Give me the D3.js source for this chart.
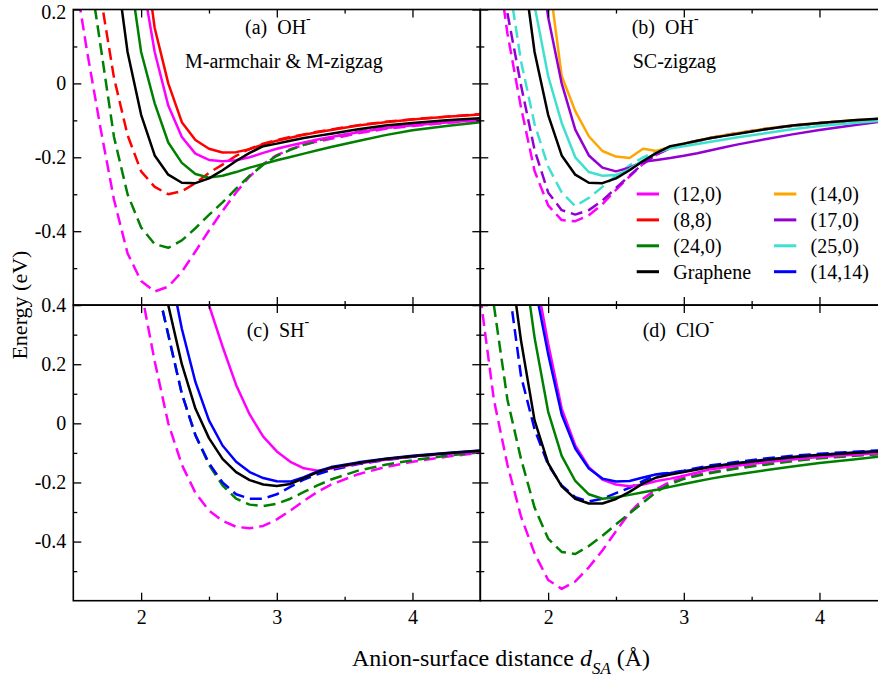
<!DOCTYPE html>
<html>
<head>
<meta charset="utf-8">
<script src="https://cdn.jsdelivr.net/npm/d3@7"></script>
<style>
  body { margin: 0; background: #fff; }
  svg text { font-family: 'Liberation Serif', Tinos, 'Times New Roman', Times, 'DejaVu Serif', serif; fill: #000; }
</style>
</head>
<body>
<svg id="chart" width="878" height="680"></svg>
<script>
// Anion–surface distance grid (Å)
const dist = [1.5,1.6,1.7,1.8,1.9,2.0,2.1,2.2,2.3,2.4,2.5,2.6,2.7,2.8,2.9,3.0,3.1,3.2,3.3,3.4,3.6,3.8,4.0,4.25,4.5];

// (a) OH-  metallic armchair / zigzag tubes (solid and dashed) and graphene
const a_12_0_dash = [0.32,0.09,-0.12,-0.315,-0.46,-0.535,-0.563,-0.55,-0.51,-0.455,-0.398,-0.345,-0.295,-0.252,-0.218,-0.194,-0.178,-0.166,-0.157,-0.15,-0.135,-0.123,-0.115,-0.107,-0.1];
const a_24_0_dash = [null,0.35,0.104,-0.145,-0.30,-0.39,-0.435,-0.445,-0.425,-0.392,-0.356,-0.322,-0.285,-0.25,-0.22,-0.196,-0.18,-0.166,-0.155,-0.146,-0.131,-0.12,-0.112,-0.104,-0.097];
const a_8_8_dash  = [null,null,0.24,0.015,-0.14,-0.238,-0.28,-0.30,-0.292,-0.27,-0.242,-0.22,-0.196,-0.177,-0.163,-0.153,-0.145,-0.138,-0.131,-0.125,-0.113,-0.104,-0.097,-0.09,-0.083];
const oh_graphene = [null,null,null,0.36,0.085,-0.085,-0.195,-0.247,-0.269,-0.27,-0.257,-0.235,-0.21,-0.188,-0.17,-0.163,-0.155,-0.148,-0.142,-0.136,-0.124,-0.114,-0.107,-0.1,-0.094];
const a_24_0 = [null,null,null,null,0.34,0.085,-0.054,-0.16,-0.215,-0.245,-0.255,-0.25,-0.24,-0.228,-0.218,-0.208,-0.199,-0.19,-0.181,-0.172,-0.156,-0.14,-0.127,-0.115,-0.105];
const a_12_0 = [null,null,null,null,null,0.30,0.085,-0.06,-0.145,-0.19,-0.207,-0.211,-0.208,-0.2,-0.188,-0.177,-0.168,-0.16,-0.152,-0.145,-0.132,-0.121,-0.113,-0.106,-0.099];
const a_8_8  = [null,null,null,null,null,0.42,0.15,0.0,-0.105,-0.153,-0.177,-0.187,-0.186,-0.178,-0.165,-0.155,-0.147,-0.139,-0.132,-0.126,-0.114,-0.105,-0.098,-0.09,-0.084];

// (b) OH-  semiconducting zigzag tubes
const b_12_0_dash = [null,0.4,0.135,-0.065,-0.237,-0.33,-0.37,-0.373,-0.357,-0.327,-0.288,-0.252,-0.218,-0.193,-0.175,-0.163,-0.155,-0.147,-0.14,-0.134,-0.123,-0.114,-0.107,-0.1,-0.095];
const b_17_0_dash = [null,0.48,0.19,-0.005,-0.18,-0.295,-0.343,-0.355,-0.343,-0.317,-0.283,-0.25,-0.217,-0.192,-0.175,-0.164,-0.156,-0.148,-0.141,-0.135,-0.124,-0.115,-0.108,-0.101,-0.096];
const b_25_0_dash = [null,null,0.3,0.06,-0.11,-0.225,-0.295,-0.332,-0.31,-0.28,-0.25,-0.222,-0.2,-0.183,-0.172,-0.163,-0.155,-0.148,-0.141,-0.135,-0.124,-0.115,-0.108,-0.101,-0.096];
const b_25_0 = [null,null,null,null,0.21,0.02,-0.107,-0.2,-0.24,-0.25,-0.248,-0.232,-0.208,-0.188,-0.176,-0.17,-0.164,-0.158,-0.152,-0.146,-0.135,-0.124,-0.115,-0.107,-0.1];
const b_17_0 = [null,null,null,null,0.45,0.18,0.0,-0.125,-0.195,-0.228,-0.238,-0.228,-0.212,-0.207,-0.202,-0.196,-0.189,-0.181,-0.173,-0.165,-0.151,-0.138,-0.126,-0.113,-0.101];
const b_14_0 = [null,null,null,null,null,0.3,0.02,-0.075,-0.143,-0.183,-0.198,-0.202,-0.177,-0.183,-0.172,-0.163,-0.155,-0.147,-0.14,-0.134,-0.123,-0.114,-0.107,-0.1,-0.095];

// (c) SH-
const c_12_0_dash  = [null,null,null,null,null,0.45,0.21,0.0,-0.14,-0.235,-0.295,-0.33,-0.35,-0.355,-0.347,-0.325,-0.295,-0.262,-0.232,-0.207,-0.172,-0.148,-0.13,-0.113,-0.099];
const c_24_0_dash  = [null,null,null,null,null,null,0.5,0.3,0.1,-0.04,-0.14,-0.21,-0.255,-0.275,-0.28,-0.272,-0.255,-0.232,-0.21,-0.19,-0.16,-0.14,-0.125,-0.11,-0.098];
const c_14_14_dash = [null,null,null,null,null,null,0.5,0.3,0.1,-0.04,-0.135,-0.2,-0.24,-0.255,-0.255,-0.24,-0.215,-0.19,-0.172,-0.158,-0.138,-0.124,-0.113,-0.103,-0.094];
const c_graphene   = [null,null,null,null,null,null,null,0.4,0.2,0.05,-0.05,-0.12,-0.165,-0.192,-0.207,-0.212,-0.205,-0.185,-0.165,-0.15,-0.134,-0.121,-0.111,-0.101,-0.093];
const c_14_14      = [null,null,null,null,null,null,null,0.55,0.32,0.14,0.01,-0.075,-0.13,-0.165,-0.185,-0.196,-0.197,-0.182,-0.163,-0.148,-0.132,-0.12,-0.11,-0.1,-0.092];
const c_12_0       = [null,null,null,null,null,null,null,null,null,0.55,0.4,0.26,0.13,0.03,-0.045,-0.095,-0.13,-0.152,-0.16,-0.153,-0.136,-0.123,-0.112,-0.102,-0.095];

// (d) ClO-
const d_12_0_dash  = [0.43,0.08,-0.14,-0.315,-0.44,-0.53,-0.56,-0.535,-0.487,-0.43,-0.365,-0.303,-0.255,-0.222,-0.198,-0.183,-0.174,-0.165,-0.157,-0.15,-0.137,-0.125,-0.117,-0.109,-0.102];
const d_24_0_dash  = [null,0.4,0.08,-0.12,-0.285,-0.39,-0.435,-0.442,-0.415,-0.38,-0.342,-0.305,-0.268,-0.231,-0.205,-0.188,-0.177,-0.168,-0.16,-0.152,-0.14,-0.128,-0.118,-0.11,-0.102];
const d_14_14_dash = [null,null,0.5,0.16,-0.02,-0.14,-0.21,-0.25,-0.264,-0.255,-0.236,-0.218,-0.195,-0.173,-0.167,-0.16,-0.151,-0.142,-0.136,-0.13,-0.119,-0.11,-0.103,-0.096,-0.09];
const d_graphene   = [null,null,0.62,0.28,0.01,-0.135,-0.213,-0.255,-0.271,-0.271,-0.256,-0.232,-0.203,-0.183,-0.173,-0.165,-0.156,-0.147,-0.141,-0.135,-0.124,-0.115,-0.107,-0.1,-0.093];
const d_24_0       = [null,null,null,0.62,0.29,0.04,-0.11,-0.195,-0.24,-0.255,-0.25,-0.242,-0.233,-0.225,-0.215,-0.205,-0.196,-0.187,-0.179,-0.172,-0.159,-0.146,-0.134,-0.122,-0.11];
const d_14_14      = [null,null,null,null,0.47,0.235,0.03,-0.085,-0.153,-0.187,-0.197,-0.195,-0.183,-0.172,-0.168,-0.162,-0.154,-0.146,-0.14,-0.134,-0.123,-0.114,-0.106,-0.099,-0.092];
const d_12_0       = [null,null,null,null,0.52,0.27,0.05,-0.075,-0.148,-0.19,-0.207,-0.213,-0.207,-0.195,-0.187,-0.177,-0.166,-0.155,-0.149,-0.143,-0.132,-0.122,-0.114,-0.106,-0.099];

// Legend
const legendLabels = ["(12,0)","(8,8)","(24,0)","Graphene","(14,0)","(17,0)","(25,0)","(14,14)"];
const legendColors = ["#ff00ff","#ff0000","#008000","#000000","#ffa500","#9400d3","#40e0d0","#0000ff"];

// Axis ticks
const xMajor = [2,3,4];
const xMinor = [2.5,3.5];
const yMajorTop = [-0.4,-0.2,0,0.2];
const yMinorTop = [-0.5,-0.3,-0.1,0.1];
const yMajorBot = [-0.4,-0.2,0,0.2,0.4];
const yMinorBot = [-0.5,-0.3,-0.1,0.1,0.3];

const C = {mag:"#ff00ff", red:"#ff0000", grn:"#008000", blk:"#000000",
           org:"#ffa500", pur:"#9400d3", cyn:"#40e0d0", blu:"#0000ff"};

const FONT = "'Liberation Serif', Tinos, 'Times New Roman', Times, 'DejaVu Serif', serif";

const svg = d3.select("#chart").attr("font-family", FONT);
const L = 73.3, T = 9.5, PW = 407, PH = 295.6;

const x = d3.scaleLinear().domain([1.5, 4.5]).range([0, PW]);
const yTop = d3.scaleLinear().domain([-0.6, 0.2]).range([PH, 0]);
const yBot = d3.scaleLinear().domain([-0.6, 0.4]).range([PH, 0]);

const panels = [
  {key:"a", col:0, row:0, y:yTop, yMaj:yMajorTop, yMin:yMinorTop, title:"(a)  OH", tx:171.7, ty:24.5,
   sub:"M-armchair & M-zigzag", sx:111.7, sy:58.5,
   series:[
     {v:a_12_0_dash, c:C.mag, dash:true}, {v:a_24_0_dash, c:C.grn, dash:true}, {v:a_8_8_dash, c:C.red, dash:true},
     {v:a_24_0, c:C.grn}, {v:a_12_0, c:C.mag}, {v:a_8_8, c:C.red}, {v:oh_graphene, c:C.blk}
   ]},
  {key:"b", col:1, row:0, y:yTop, yMaj:yMajorTop, yMin:yMinorTop, title:"(b)  OH", tx:151.4, ty:24.5,
   sub:"SC-zigzag", sx:152.4, sy:58.5,
   series:[
     {v:b_12_0_dash, c:C.mag, dash:true}, {v:b_17_0_dash, c:C.pur, dash:true}, {v:b_25_0_dash, c:C.cyn, dash:true},
     {v:b_14_0, c:C.org}, {v:b_17_0, c:C.pur}, {v:b_25_0, c:C.cyn}, {v:oh_graphene, c:C.blk}
   ]},
  {key:"c", col:0, row:1, y:yBot, yMaj:yMajorBot, yMin:yMinorBot, title:"(c)  SH", tx:173.4, ty:32,
   series:[
     {v:c_12_0_dash, c:C.mag, dash:true}, {v:c_24_0_dash, c:C.grn, dash:true}, {v:c_14_14_dash, c:C.blu, dash:true},
     {v:c_12_0, c:C.mag}, {v:c_14_14, c:C.blu}, {v:c_graphene, c:C.blk}
   ]},
  {key:"d", col:1, row:1, y:yBot, yMaj:yMajorBot, yMin:yMinorBot, title:"(d)  ClO", tx:162.4, ty:32,
   series:[
     {v:d_12_0_dash, c:C.mag, dash:true}, {v:d_24_0_dash, c:C.grn, dash:true}, {v:d_14_14_dash, c:C.blu, dash:true},
     {v:d_12_0, c:C.mag}, {v:d_24_0, c:C.grn}, {v:d_14_14, c:C.blu}, {v:d_graphene, c:C.blk}
   ]}
];

const fmtY = v => (Math.abs(v) < 1e-9 ? "0" : String(+v.toFixed(1)));
const blank = () => "";

function styleAxis(g) {
  g.select(".domain").remove();
  g.attr("font-size", 20).attr("font-family", FONT);
  g.selectAll(".tick line").attr("stroke", "#000").attr("stroke-width", 1.3);
  g.selectAll(".tick text").attr("fill", "#000");
}

panels.forEach(p => {
  const g = svg.append("g").attr("transform", `translate(${L + p.col * PW},${T + p.row * PH})`);
  const showX = p.row === 1, showY = p.col === 0;

  g.append("clipPath").attr("id", "clip-" + p.key)
    .append("rect").attr("width", PW).attr("height", PH);

  const line = d3.line()
    .defined(d => d[1] != null)
    .x(d => x(d[0]))
    .y(d => p.y(d[1]));

  const plot = g.append("g").attr("clip-path", `url(#clip-${p.key})`);
  p.series.forEach(s => {
    plot.append("path")
      .datum(dist.map((d, i) => [d, s.v[i]]))
      .attr("d", line)
      .attr("fill", "none")
      .attr("stroke", s.c)
      .attr("stroke-width", 2.5)
      .attr("stroke-linejoin", "round")
      .attr("stroke-dasharray", s.dash ? "12,6" : null);
  });

  // x ticks, bottom and top, pointing inward
  g.append("g").attr("transform", `translate(0,${PH})`)
    .call(d3.axisBottom(x).tickValues(xMajor).tickSize(-8).tickSizeOuter(0).tickPadding(9)
      .tickFormat(showX ? d3.format("d") : blank)).call(styleAxis);
  g.append("g").attr("transform", `translate(0,${PH})`)
    .call(d3.axisBottom(x).tickValues(xMinor).tickSize(-4).tickSizeOuter(0).tickFormat(blank)).call(styleAxis);
  g.append("g")
    .call(d3.axisTop(x).tickValues(xMajor).tickSize(-8).tickSizeOuter(0).tickFormat(blank)).call(styleAxis);
  g.append("g")
    .call(d3.axisTop(x).tickValues(xMinor).tickSize(-4).tickSizeOuter(0).tickFormat(blank)).call(styleAxis);

  // y ticks, left and right, pointing inward
  const yAx = g.append("g")
    .call(d3.axisLeft(p.y).tickValues(p.yMaj).tickSize(-8).tickSizeOuter(0).tickPadding(7)
      .tickFormat(showY ? fmtY : blank)).call(styleAxis);
  // keep the topmost label of the upper panel inside the page
  yAx.selectAll(".tick text").filter(v => p.row === 0 && v === 0.2).attr("dy", "0.45em");
  g.append("g")
    .call(d3.axisLeft(p.y).tickValues(p.yMin).tickSize(-4).tickSizeOuter(0).tickFormat(blank)).call(styleAxis);
  g.append("g").attr("transform", `translate(${PW},0)`)
    .call(d3.axisRight(p.y).tickValues(p.yMaj).tickSize(-8).tickSizeOuter(0).tickFormat(blank)).call(styleAxis);
  g.append("g").attr("transform", `translate(${PW},0)`)
    .call(d3.axisRight(p.y).tickValues(p.yMin).tickSize(-4).tickSizeOuter(0).tickFormat(blank)).call(styleAxis);

  g.append("rect").attr("width", PW).attr("height", PH)
    .attr("fill", "none").attr("stroke", "#000").attr("stroke-width", 1.6);

  // panel label with superscript minus
  const t = g.append("text").attr("x", p.tx).attr("y", p.ty)
    .attr("font-size", 20).style("white-space", "pre");
  t.append("tspan").text(p.title);
  t.append("tspan").attr("dy", -11).attr("font-size", 14).text("-");
  if (p.sub) {
    g.append("text").attr("x", p.sx).attr("y", p.sy).attr("font-size", 20).text(p.sub);
  }

  // legend in panel (b)
  if (p.key === "b") {
    const lg = g.append("g");
    legendLabels.forEach((lab, i) => {
      const col = Math.floor(i / 4), row = i % 4;
      const lx = col === 0 ? 156.4 : 293.7;
      const ly = 184.5 + row * 25.9;
      lg.append("line").attr("x1", lx).attr("x2", lx + 22.3).attr("y1", ly).attr("y2", ly)
        .attr("stroke", legendColors[i]).attr("stroke-width", 3);
      lg.append("text").attr("x", lx + 36.6).attr("y", ly).attr("dy", "0.34em")
        .attr("font-size", 20).text(lab);
    });
  }
});

// axis titles
svg.append("text")
  .attr("transform", `translate(27,${T + PH})rotate(-90)`)
  .attr("text-anchor", "middle").attr("font-size", 22)
  .text("Energy (eV)");

const xt = svg.append("text").attr("x", 352).attr("y", 666).attr("font-size", 24);
xt.append("tspan").text("Anion-surface distance ");
xt.append("tspan").attr("font-style", "italic").text("d");
xt.append("tspan").attr("font-style", "italic").attr("font-size", 17).attr("dy", 8).text("SA");
xt.append("tspan").attr("dy", -8).text(" (Å)");
</script>
</body>
</html>
